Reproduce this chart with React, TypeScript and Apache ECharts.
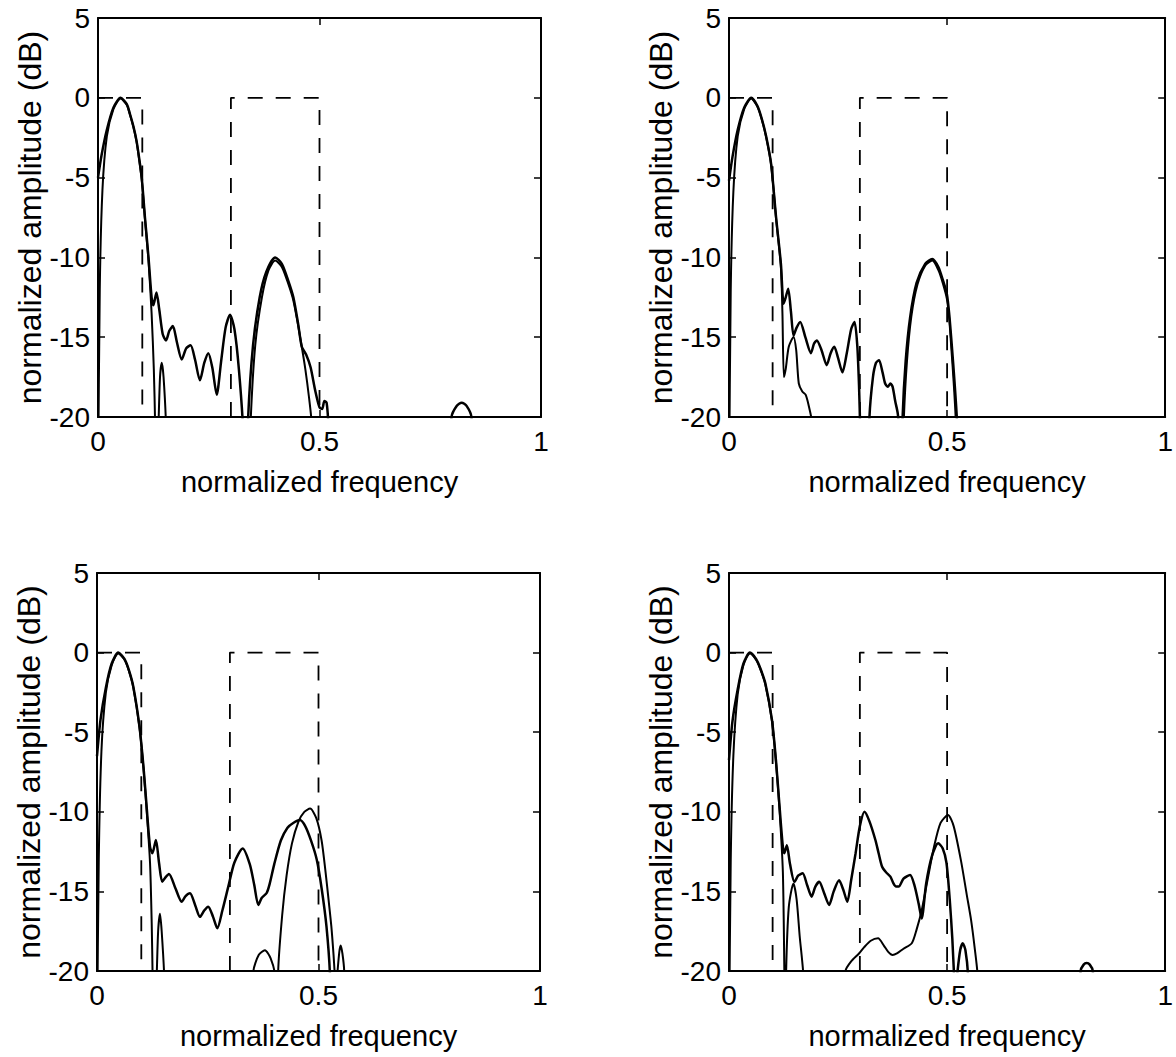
import React, { useEffect, useRef } from "react";
import * as echarts from "echarts";

// ---- data (normalized frequency, normalized amplitude dB) ----
const xTickValues = [0, 0.5, 1];
const yTickValues = [-20, -15, -10, -5, 0, 5];

const templateLow = [[0, 0], [0.1, 0], [0.1, -20]];
const templateHigh = [[0.3, -20], [0.3, 0], [0.5, 0], [0.5, -20]];

// Plot 1 (top-left)
const p1A = [
  [0, -5.0], [0.008, -3.6], [0.02, -2.0], [0.035, -0.6], [0.051, 0], [0.065, -0.4], [0.072, -1.0], [0.08, -1.8],
  [0.087, -2.7], [0.093, -3.8], [0.099, -5.1], [0.106, -7.5], [0.114, -10.0], [0.121, -12.5], [0.125, -13.0],
  [0.132, -12.2], [0.138, -13.2], [0.146, -14.8], [0.1535, -15.2], [0.161, -14.6], [0.169, -14.3], [0.178, -15.3],
  [0.189, -16.4], [0.199, -15.7], [0.209, -15.5], [0.219, -16.4], [0.23, -17.7], [0.24, -16.6], [0.249, -16.0],
  [0.258, -16.9], [0.268, -18.6], [0.278, -16.5], [0.288, -14.4], [0.298, -13.6], [0.308, -14.5], [0.318, -17.0],
  [0.328, -21], [0.331, -25], [0.335, -25], [0.339, -20], [0.35, -15.5], [0.365, -12.5], [0.38, -10.9], [0.4, -10.0],
  [0.415, -10.4], [0.43, -11.5], [0.441, -12.5], [0.452, -14.2], [0.46, -15.6], [0.47, -16.1], [0.48, -16.9],
  [0.49, -18.3], [0.5, -19.4], [0.506, -19.5], [0.511, -19.0], [0.516, -19.1], [0.52, -20.5], [0.525, -25],
  [0.79, -25], [0.798, -20], [0.81, -19.3], [0.821, -19.1], [0.832, -19.3], [0.843, -20], [0.85, -25],
];
const p1B = [
  [0, -25], [0.004, -12], [0.01, -5.8], [0.02, -2.4], [0.035, -0.7], [0.051, -0.05], [0.065, -0.45], [0.072, -1.05],
  [0.08, -1.85], [0.087, -2.75], [0.093, -3.9], [0.099, -5.2], [0.106, -7.6], [0.114, -10.2], [0.121, -13.5],
  [0.126, -17], [0.129, -20.5], [0.131, -25], [0.136, -21], [0.14, -17.5], [0.144, -16.6], [0.148, -17.5],
  [0.1535, -20.5], [0.156, -25], [0.34, -25], [0.345, -20], [0.355, -15.5], [0.37, -12.5], [0.385, -10.8],
  [0.4, -10.2], [0.415, -10.6], [0.43, -11.7], [0.441, -12.7], [0.452, -14.3], [0.46, -15.6], [0.468, -17],
  [0.476, -18.7], [0.482, -20.3], [0.486, -25],
];

// Plot 2 (top-right)
const p2A = [
  [0, -5.2], [0.008, -3.7], [0.02, -2.0], [0.035, -0.6], [0.051, 0], [0.065, -0.5], [0.075, -1.3], [0.085, -2.4],
  [0.0966, -4.15], [0.108, -7.5], [0.119, -10.4], [0.125, -12.9], [0.129, -12.6], [0.1357, -11.96], [0.142, -13.4],
  [0.148, -14.9], [0.155, -14.4], [0.1633, -14.04], [0.175, -15.0], [0.1878, -16.0], [0.195, -15.4], [0.2014, -15.2],
  [0.212, -15.8], [0.224, -16.75], [0.233, -16.0], [0.2413, -15.6], [0.25, -16.3], [0.26, -17.2], [0.27, -16.0],
  [0.28, -14.5], [0.2878, -14.04], [0.294, -15.5], [0.298, -18], [0.301, -21], [0.303, -25], [0.318, -25],
  [0.322, -20], [0.33, -17.5], [0.337, -16.6], [0.344, -16.44], [0.352, -17.2], [0.358, -17.9], [0.364, -18.1],
  [0.37, -17.9], [0.375, -18.1], [0.381, -19.0], [0.387, -19.8], [0.39, -21], [0.392, -25], [0.394, -25],
  [0.398, -20], [0.405, -16.5], [0.415, -13.8], [0.43, -11.6], [0.45, -10.4], [0.466, -10.1], [0.48, -10.6],
  [0.49, -11.4], [0.4995, -12.3], [0.505, -13.6], [0.511, -15.6], [0.517, -17.8], [0.5226, -20.3], [0.525, -25],
];
const p2B = [
  [0, -25], [0.004, -12], [0.01, -5.9], [0.02, -2.4], [0.035, -0.7], [0.051, -0.05], [0.065, -0.55], [0.075, -1.35],
  [0.085, -2.45], [0.0966, -4.2], [0.108, -7.6], [0.119, -10.6], [0.1225, -13.5], [0.1258, -17.5], [0.13, -17.0],
  [0.137, -15.6], [0.148, -14.98], [0.154, -15.8], [0.16, -17.9], [0.168, -18.4], [0.1756, -18.6], [0.182, -19.2],
  [0.19, -20.3], [0.193, -25], [0.396, -25], [0.401, -20], [0.408, -16.5], [0.418, -13.7], [0.432, -11.7],
  [0.45, -10.5], [0.466, -10.2], [0.48, -10.8], [0.49, -11.6], [0.4995, -12.6], [0.505, -13.9], [0.51, -15.8],
  [0.515, -17.8], [0.52, -20.3], [0.523, -25],
];

// Plot 3 (bottom-left)
const p3A = [
  [0, -6.5], [0.008, -4.2], [0.02, -2.2], [0.033, -0.7], [0.048, 0], [0.062, -0.4], [0.072, -1.1], [0.082, -2.14],
  [0.0959, -4.65], [0.105, -7.2], [0.1121, -9.7], [0.1197, -12.2], [0.125, -12.6], [0.133, -11.77], [0.14, -13.2],
  [0.1472, -14.4], [0.155, -14.1], [0.1625, -13.9], [0.177, -14.8], [0.1912, -15.65], [0.2, -15.3], [0.2099, -15.12],
  [0.222, -15.9], [0.2325, -16.6], [0.242, -16.2], [0.251, -15.96], [0.262, -16.6], [0.2716, -17.32], [0.283, -16.2],
  [0.2964, -14.7], [0.31, -13.2], [0.3288, -12.3], [0.345, -13.3], [0.355, -14.6], [0.3642, -15.85], [0.372, -15.4],
  [0.383, -15.1], [0.39, -14.5], [0.4, -13.3], [0.415, -11.8], [0.43, -11.0], [0.443, -10.7], [0.458, -10.52],
  [0.47, -10.9], [0.483, -11.8], [0.496, -13.0], [0.507, -14.8], [0.518, -17.2], [0.526, -20.3], [0.529, -25],
];
const p3B = [
  [0, -25], [0.004, -13], [0.01, -6.2], [0.02, -2.5], [0.033, -0.8], [0.048, -0.05], [0.062, -0.45], [0.072, -1.15],
  [0.082, -2.2], [0.0959, -4.7], [0.105, -7.3], [0.1121, -9.9], [0.1197, -13.2], [0.1235, -17], [0.1255, -20.3],
  [0.128, -25], [0.134, -21], [0.138, -17.5], [0.1422, -16.4], [0.146, -17.5], [0.152, -20.5], [0.155, -25],
  [0.348, -25], [0.353, -20], [0.365, -19], [0.379, -18.7], [0.392, -19.2], [0.402, -20.3], [0.405, -25],
  [0.407, -25], [0.409, -20], [0.418, -16.5], [0.428, -14], [0.44, -12.0], [0.455, -10.6], [0.468, -10.0],
  [0.481, -9.8], [0.495, -10.4], [0.507, -11.8], [0.516, -13.8], [0.523, -15.6], [0.529, -17.2], [0.534, -19],
  [0.537, -20.3], [0.54, -21], [0.543, -20], [0.547, -18.8], [0.55, -18.4], [0.554, -18.9], [0.558, -20], [0.561, -25],
];

// Plot 4 (bottom-right)
const p4A = [
  [0, -6.75], [0.008, -4.3], [0.02, -2.3], [0.033, -0.7], [0.048, 0], [0.062, -0.4], [0.072, -1.0], [0.0833, -1.93],
  [0.0985, -4.23], [0.1076, -6.75], [0.1159, -9.68], [0.1235, -12.2], [0.127, -12.6], [0.1326, -12.1], [0.14, -13.3],
  [0.15, -14.4], [0.159, -14.0], [0.1689, -13.86], [0.179, -14.6], [0.1894, -15.33], [0.198, -14.7], [0.2068, -14.4],
  [0.218, -15.1], [0.2295, -15.85], [0.24, -15.0], [0.2523, -14.3], [0.262, -14.9], [0.2712, -15.65], [0.28, -14.3],
  [0.2902, -12.6], [0.3, -10.9], [0.3106, -10.0], [0.322, -10.6], [0.3356, -11.77], [0.343, -12.6], [0.351, -13.45],
  [0.36, -13.8], [0.37, -14.07], [0.377, -14.5], [0.383, -14.7], [0.389, -14.7], [0.4, -14.2], [0.415, -13.97],
  [0.425, -14.6], [0.435, -15.8], [0.4417, -16.7], [0.452, -14.5], [0.465, -12.8], [0.4795, -11.98], [0.49, -12.3],
  [0.4985, -13.2], [0.506, -15.5], [0.512, -18], [0.516, -20.3], [0.519, -21.5], [0.524, -20], [0.53, -18.7],
  [0.536, -18.26], [0.542, -18.7], [0.548, -20.3], [0.551, -25],
  [0.8, -25], [0.806, -20], [0.813, -19.6], [0.82, -19.5], [0.827, -19.6], [0.834, -20], [0.84, -25],
];
const p4B = [
  [0, -25], [0.004, -13], [0.01, -6.5], [0.02, -2.6], [0.033, -0.8], [0.048, -0.05], [0.062, -0.45], [0.072, -1.05],
  [0.0833, -2.0], [0.0985, -4.3], [0.1076, -6.85], [0.1159, -9.9], [0.1235, -13.8], [0.127, -20.3], [0.129, -25],
  [0.131, -20], [0.137, -16], [0.1477, -14.5], [0.155, -15.5], [0.162, -17.8], [0.1705, -20.3], [0.173, -25],
  [0.262, -25], [0.267, -20], [0.28, -19.4], [0.298, -18.9], [0.31, -18.5], [0.325, -18.1], [0.3417, -17.95],
  [0.355, -18.4], [0.365, -18.8], [0.375, -19.0], [0.385, -18.9], [0.4, -18.6], [0.419, -18.26], [0.43, -17.4],
  [0.4417, -16.2], [0.455, -14.3], [0.47, -12.2], [0.485, -10.7], [0.502, -10.2], [0.515, -10.9], [0.532, -13.1],
  [0.545, -15.2], [0.555, -16.8], [0.563, -18.5], [0.57, -20.3], [0.573, -25],
];

const panels = [
  { a: p1A, b: p1B },
  { a: p2A, b: p2B },
  { a: p3A, b: p3B },
  { a: p4A, b: p4B },
];

const gridBoxes = [
  { left: 98, top: 18, width: 443, height: 399 },
  { left: 729, top: 18, width: 442, height: 399 },
  { left: 97, top: 573, width: 443, height: 398 },
  { left: 729, top: 573, width: 440, height: 398 },
];

const FONT = "Liberation Sans, Arial, Helvetica, sans-serif";

function buildOption() {
  const grid: any[] = [];
  const xAxis: any[] = [];
  const yAxis: any[] = [];
  const series: any[] = [];
  const axisLine = { show: true, onZero: false, lineStyle: { color: "#000", width: 2 } };
  const tick = { show: true, inside: true, length: 7, lineStyle: { color: "#000", width: 1.5 } };

  gridBoxes.forEach((g, i) => {
    grid.push({ ...g, containLabel: false, show: false });
    const xBase = {
      type: "value",
      gridIndex: i,
      min: xTickValues[0],
      max: xTickValues[xTickValues.length - 1],
      interval: xTickValues[1] - xTickValues[0],
      splitLine: { show: false },
      axisLine,
      axisTick: tick,
    };
    const yBase = {
      type: "value",
      gridIndex: i,
      min: yTickValues[0],
      max: yTickValues[yTickValues.length - 1],
      interval: yTickValues[1] - yTickValues[0],
      splitLine: { show: false },
      axisLine,
      axisTick: tick,
    };
    xAxis.push({
      ...xBase,
      position: "bottom",
      axisLabel: { show: true, color: "#000", fontSize: 28, fontFamily: FONT, margin: 10, showMinLabel: true, showMaxLabel: true },
      name: "normalized frequency",
      nameLocation: "middle",
      nameGap: 50,
      nameTextStyle: { color: "#000", fontSize: 29, fontFamily: FONT },
    });
    xAxis.push({ ...xBase, position: "top", axisLabel: { show: false } });
    yAxis.push({
      ...yBase,
      position: "left",
      axisLabel: { show: true, color: "#000", fontSize: 28, fontFamily: FONT, margin: 8, showMinLabel: true, showMaxLabel: true },
      name: "normalized amplitude (dB)",
      nameLocation: "middle",
      nameRotate: 90,
      nameGap: 52,
      nameTextStyle: { color: "#000", fontSize: 32, fontFamily: FONT },
    });
    yAxis.push({ ...yBase, position: "right", axisLabel: { show: false } });

    const xi = i * 2;
    const yi = i * 2;
    const dashed = { color: "#000", width: 1.8, type: [15, 13] };
    series.push({
      type: "line", xAxisIndex: xi, yAxisIndex: yi, data: templateLow, showSymbol: false,
      lineStyle: dashed, clip: true, silent: true,
    });
    series.push({
      type: "line", xAxisIndex: xi, yAxisIndex: yi, data: templateHigh, showSymbol: false,
      lineStyle: dashed, clip: true, silent: true,
    });
    series.push({
      type: "line", xAxisIndex: xi, yAxisIndex: yi, data: panels[i].a, showSymbol: false, smooth: 0.25,
      lineStyle: { color: "#000", width: 2.5 }, clip: true, silent: true,
    });
    series.push({
      type: "line", xAxisIndex: xi, yAxisIndex: yi, data: panels[i].b, showSymbol: false, smooth: 0.25,
      lineStyle: { color: "#000", width: 2.0 }, clip: true, silent: true,
    });
  });

  return {
    animation: false,
    backgroundColor: "#fff",
    grid,
    xAxis,
    yAxis,
    series,
  };
}

export default function App() {
  const ref = useRef<HTMLDivElement>(null);
  useEffect(() => {
    if (!ref.current) return;
    const chart = echarts.init(ref.current, undefined, { renderer: "svg" });
    chart.setOption(buildOption() as any);
    return () => chart.dispose();
  }, []);
  return (
    <div
      ref={ref}
      style={{ position: "absolute", left: 0, top: 0, width: 1176, height: 1057, background: "#fff" }}
    />
  );
}
